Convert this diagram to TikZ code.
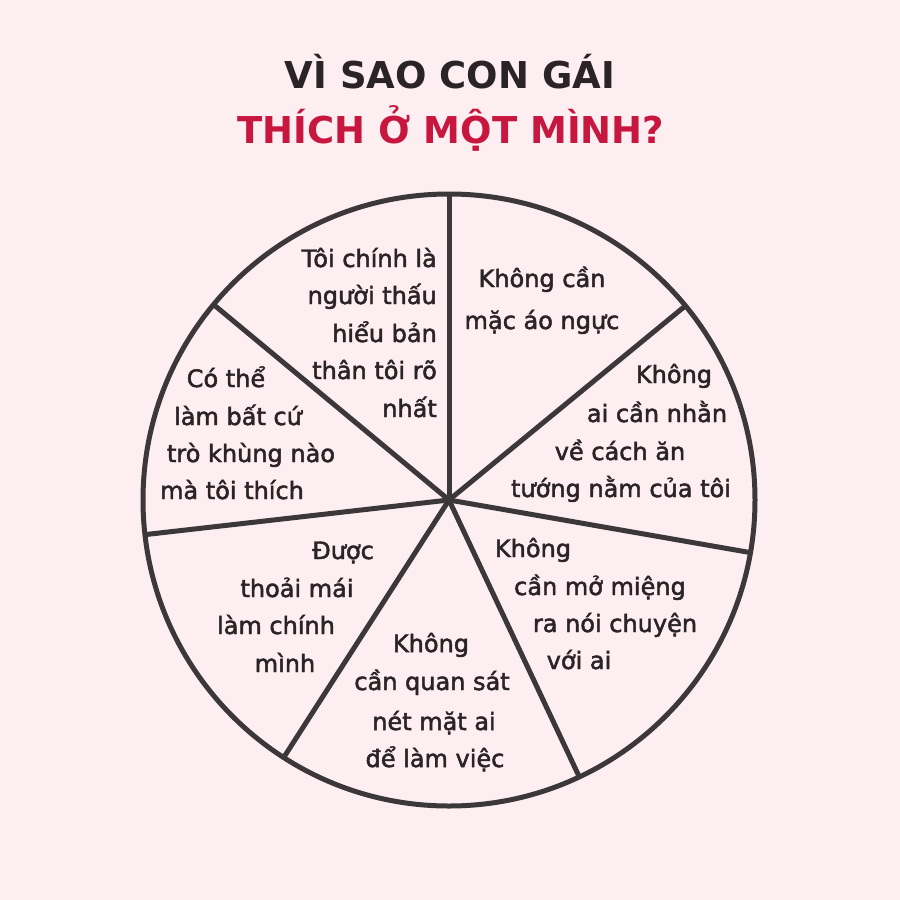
\documentclass[tikz,border=0pt]{standalone}
\usepackage{fontspec}
\setmainfont{DejaVu Sans}
\newfontfamily\cuerpo{DejaVu Sans}[FakeBold=2]
\usepackage{tikz}
\usetikzlibrary{positioning}
\definecolor{rosaFondo}{HTML}{FDEEF1}
\definecolor{tinta}{HTML}{2A2426}
\definecolor{carmin}{HTML}{C8173F}
\definecolor{trazo}{HTML}{3C3839}

\begin{document}
\begin{tikzpicture}[
        x=1pt, y=-1pt,
        % Estilos de los textos
        titulo/.style={font=\fontsize{37}{40}\selectfont\bfseries, anchor=base, inner sep=0pt},
        texto/.style={font=\fontsize{24}{30}\selectfont\cuerpo, text=tinta, anchor=base, inner sep=0pt},
        derecha/.style={texto, anchor=base east},
        % Estilos de las lineas
        borde/.style={draw=trazo, line width=5pt},
        radio/.style={draw=trazo, line width=5pt}
    ]

    % -- Fondo --
    \fill[rosaFondo] (0,0) rectangle (900,900);
    \useasboundingbox (0,0) rectangle (900,900);

    % -- Titulo --
    \node[titulo, text=tinta] (t1) at (450,88) {VÌ SAO CON GÁI};
    \node[titulo, text=carmin] (t2) at (451,143) {THÍCH Ở MỘT MÌNH?};

    % -- Circulo y radios --
    \coordinate (o) at (449,500);
    \draw[borde] (o) circle[radius=306];
    \foreach \a in {-90,-39.4,9.9,64.8,122.7,173.5,219.7}
        \draw[radio] (o) -- ++(\a:306);

    % -- Sector superior izquierdo --
    \foreach \y/\t [count=\i] in {267/Tôi chính là,304/người thấu,342/hiểu bản,379/thân tôi rõ,417/nhất}
        \node[derecha] (a\i) at (437,\y) {\t};

    % -- Sector superior derecho --
    \foreach \y/\t [count=\i] in {287/Không cần,329/mặc áo ngực}
        \node[texto] (b\i) at (542,\y) {\t};

    % -- Sector derecho --
    \foreach \x/\y/\t [count=\i] in {674/383/Không,657/422/ai cần nhằn,620/460/về cách ăn,621/497/tướng nằm của tôi}
        \node[texto] (c\i) at (\x,\y) {\t};

    % -- Sector inferior derecho --
    \foreach \x/\y/\t [count=\i] in {533/557/Không,600/595/cần mở miệng,615/632/ra nói chuyện,579/669/với ai}
        \node[texto] (d\i) at (\x,\y) {\t};

    % -- Sector inferior --
    \foreach \x/\y/\t [count=\i] in {431/652/Không,432/690/cần quan sát,434/730/nét mặt ai,435/767/để làm việc}
        \node[texto] (e\i) at (\x,\y) {\t};

    % -- Sector inferior izquierdo --
    \foreach \x/\y/\t [count=\i] in {343/559/Được,297/597/thoải mái,276/634/làm chính,285/672/mình}
        \node[texto] (f\i) at (\x,\y) {\t};

    % -- Sector izquierdo --
    \foreach \x/\y/\t [count=\i] in {226/387/Có thể,238/425/làm bất cứ,251/462/trò khùng nào,232/499/mà tôi thích}
        \node[texto] (g\i) at (\x,\y) {\t};

\end{tikzpicture}
\end{document}
